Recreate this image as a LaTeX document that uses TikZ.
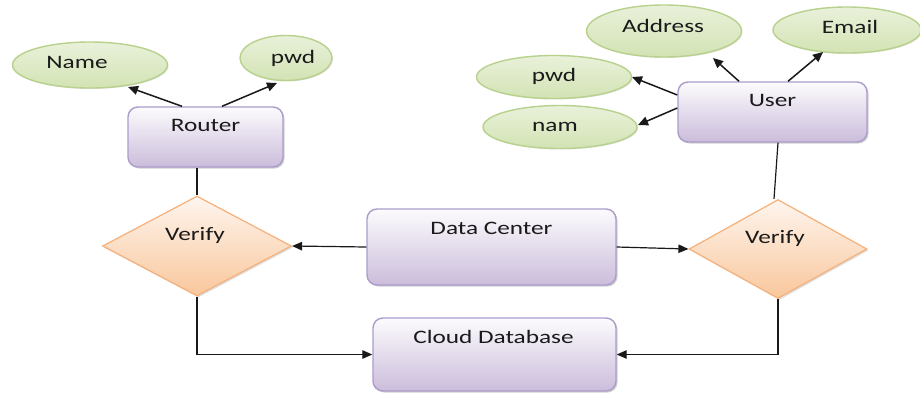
\documentclass[tikz,border=0pt]{standalone}
\usepackage{fontspec}
\setmainfont[FakeStretch=1.33]{Carlito}
\usetikzlibrary{shapes.geometric,arrows.meta,calc,shadows}

\definecolor{txt}{HTML}{1A1A1A}
\definecolor{boxtop}{HTML}{FCFBFD}
\definecolor{boxbot}{HTML}{CBBDDB}
\definecolor{boxline}{HTML}{AC9CCB}
\definecolor{elltop}{HTML}{E9F1DA}
\definecolor{ellbot}{HTML}{D3E3B4}
\definecolor{ellline}{HTML}{B8D18C}
\definecolor{diatop}{HTML}{FEF5EE}
\definecolor{diabot}{HTML}{F9C79C}
\definecolor{dialine}{HTML}{F6B07A}

\tikzset{
  entity/.style={draw=boxline, line width=1.4pt, rounded corners=10pt,
    top color=boxtop, bottom color=boxbot, inner sep=0pt,
    drop shadow={shadow xshift=1.5pt, shadow yshift=-1.5pt, opacity=0.3, fill=black!60}},
  attrib/.style={ellipse, draw=ellline, line width=1.4pt,
    top color=elltop, bottom color=ellbot, inner sep=0pt,
    drop shadow={shadow xshift=1pt, shadow yshift=-1pt, opacity=0.2, fill=black!50}},
  relation/.style={diamond, draw=dialine, line width=1.2pt,
    top color=diatop, bottom color=diabot, inner sep=0pt,
    drop shadow={shadow xshift=1.5pt, shadow yshift=-1.5pt, opacity=0.25, fill=black!50}},
  caption/.style={text=txt, inner sep=0pt, anchor=mid, font=\fontsize{19}{21}\selectfont},
  link/.style={draw=black!90, line width=1.2pt},
  attrlink/.style={draw=black!90, line width=1.5pt, -{Triangle[length=10pt,width=9pt]}},
  flow/.style={draw=black!90, line width=1.2pt, -{Triangle[length=10pt,width=8.5pt]}}
}

\begin{document}
\begin{tikzpicture}[x=1pt,y=-1pt]
\useasboundingbox[fill=white] (0,0) rectangle (920,394);

% attribute ellipses
\node[attrib, minimum width=155, minimum height=46] (name)    at (90,65)   {};
\node[attrib, minimum width=92,  minimum height=45] (pwdl)    at (286,58)  {};
\node[attrib, minimum width=155, minimum height=52] (address) at (664,31)  {};
\node[attrib, minimum width=148, minimum height=46] (email)   at (847,30)  {};
\node[attrib, minimum width=155, minimum height=43] (pwdr)    at (554,77)  {};
\node[attrib, minimum width=154, minimum height=43] (nam)     at (560,127) {};

% entity boxes
\node[entity, minimum width=155, minimum height=60] (router) at (205.5,137) {};
\node[entity, minimum width=189, minimum height=60] (user)   at (772.5,112) {};
\node[entity, minimum width=249, minimum height=76] (dc)     at (491.5,247) {};
\node[entity, minimum width=243, minimum height=73] (cdb)    at (494.5,354.5) {};

% verification diamonds
\node[relation, minimum width=189, minimum height=100] (vl) at (197,246) {};
\node[relation, minimum width=178, minimum height=99]  (vr) at (778,249) {};

% captions
\node[caption] (name-t)    at ($(name.center)+(-13,1)$)   {Name};
\node[caption] (pwdl-t)    at ($(pwdl.center)+(7,3)$)     {pwd};
\node[caption] (address-t) at ($(address.center)+(-1,-1)$) {Address};
\node[caption] (email-t)   at ($(email.center)+(3,1)$)    {Email};
\node[caption] (pwdr-t)    at ($(pwdr.center)+(0,2)$)     {pwd};
\node[caption] (nam-t)     at ($(nam.center)+(-5,2)$)     {nam};
\node[caption] (router-t)  at ($(router.center)+(0,-8)$)  {Router};
\node[caption] (user-t)    at ($(user.center)+(0,-8)$)    {User};
\node[caption] (dc-t)      at ($(dc.center)+(0,-15)$)      {Data Center};
\node[caption] (cdb-t)     at ($(cdb.center)+(-1,-13)$)    {Cloud Database};
\node[caption] (vl-t)      at ($(vl.center)+(-2,-8)$)     {Verify};
\node[caption] (vr-t)      at ($(vr.center)+(-3,-8)$)     {Verify};

% attribute links
\draw[attrlink] ($(router.north)+(-23.5,0)$) -- ($(name.center)+(38,22)$);
\draw[attrlink] ($(router.north)+(16.5,0)$)  -- ($(pwdl.center)+(-9,25)$);
\draw[attrlink] ($(user.north)+(-33.5,0)$)   -- ($(address.center)+(49,27)$);
\draw[attrlink] ($(user.north)+(15.5,0)$)    -- ($(email.center)+(-24,22)$);
\draw[attrlink] ($(user.west)+(0,-17)$)      -- ($(pwdr.center)+(78,0)$);
\draw[attrlink] ($(user.west)+(0,-4)$)       -- ($(nam.center)+(78,-2)$);

% entities to verification
\draw[link] (vl.north |- router.south) -- (vl.north);
\draw[link] ($(user.south)+(5.5,0)$) -- ($(vr.north)+(-4,0)$);

% data center feeds both checks
\draw[flow] (dc.west) -- (vl.east);
\draw[flow] (dc.east) -- (vr.west);

% checks write into the cloud database
\draw[flow] (vl.south) |- (cdb.west);
\draw[flow] (vr.south) |- (cdb.east);
\end{tikzpicture}
\end{document}
